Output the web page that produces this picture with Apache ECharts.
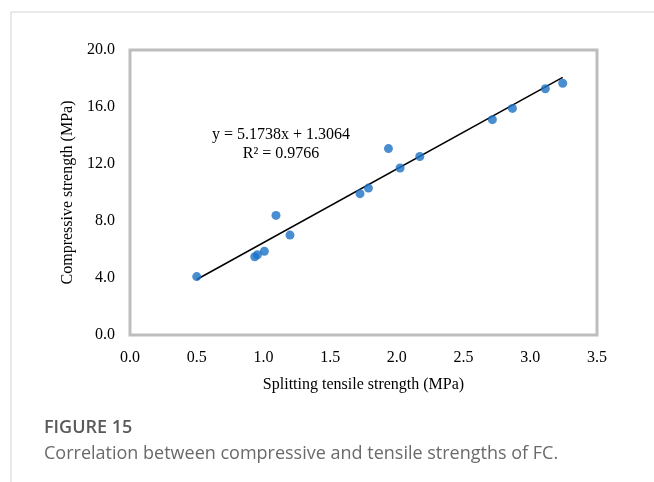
<!DOCTYPE html>
<html>
<head>
<meta charset="utf-8">
<script src="https://cdn.jsdelivr.net/npm/echarts@6/dist/echarts.min.js"></script>
<style>
html, body { margin: 0; padding: 0; background: #fff; }
#chart { width: 654px; height: 482px; }
</style>
</head>
<body>
<div id="chart"></div>
<script>
// tensile (x) vs compressive (y) strength, MPa
const tensile = [0.50, 0.935, 0.955, 1.007, 1.094, 1.199, 1.724, 1.787, 1.937, 2.024, 2.172, 2.716, 2.866, 3.113, 3.243];
const compressive = [4.10, 5.49, 5.63, 5.88, 8.39, 7.01, 9.92, 10.31, 13.08, 11.72, 12.53, 15.11, 15.90, 17.28, 17.67];
const slope = 5.1738;
const intercept = 1.3064;
const rSquared = 0.9766;

const points = tensile.map((x, i) => [x, compressive[i]]);
const xMin = Math.min(...tensile);
const xMax = Math.max(...tensile);
const trend = [[xMin, slope * xMin + intercept], [xMax, slope * xMax + intercept]];

const serif = '"Liberation Serif", "Times New Roman", serif';
const sans = '"Open Sans", sans-serif';
const chart = echarts.init(document.getElementById("chart"));

chart.setOption({
    animation: false,
    grid: {
        left: 130,
        right: 57,
        top: 50,
        bottom: 147,
        show: true,
        borderColor: "#bdbdbd",
        borderWidth: 3
    },
    xAxis: {
        type: "value",
        min: 0,
        max: 3.5,
        interval: 0.5,
        name: "Splitting tensile strength (MPa)",
        nameLocation: "middle",
        nameGap: 42,
        nameTextStyle: { fontFamily: serif, fontSize: 16, color: "#000" },
        axisLine: { show: false },
        axisTick: { show: false },
        splitLine: { show: false },
        axisLabel: {
            margin: 15,
            fontFamily: serif,
            fontSize: 16,
            color: "#000",
            formatter: v => v.toFixed(1)
        }
    },
    yAxis: {
        type: "value",
        min: 0,
        max: 20,
        interval: 4,
        name: "Compressive strength (MPa)",
        nameLocation: "middle",
        nameGap: 52,
        nameTextStyle: { fontFamily: serif, fontSize: 16, color: "#000" },
        axisLine: { show: false },
        axisTick: { show: false },
        splitLine: { show: false },
        axisLabel: {
            margin: 15,
            fontFamily: serif,
            fontSize: 16,
            color: "#000",
            formatter: v => v.toFixed(1)
        }
    },
    series: [
        {
            type: "line",
            data: trend,
            symbol: "none",
            lineStyle: { color: "#000", width: 1.5 },
            z: 2
        },
        {
            type: "scatter",
            data: points,
            symbolSize: 9,
            itemStyle: { color: "#1c72c6" },
            z: 3
        }
    ],
    graphic: [
        {
            type: "line",
            shape: { x1: 11, y1: 12, x2: 654, y2: 12 },
            style: { stroke: "#d4d4d4", lineWidth: 1 }
        },
        {
            type: "line",
            shape: { x1: 11, y1: 12, x2: 11, y2: 482 },
            style: { stroke: "#d4d4d4", lineWidth: 1 }
        },
        {
            type: "text",
            x: 281,
            y: 127,
            style: {
                text: "y = 5.1738x + 1.3064",
                align: "center",
                textAlign: "center",
                fontFamily: serif,
                fontSize: 16,
                fill: "#000"
            }
        },
        {
            type: "text",
            x: 281,
            y: 146,
            style: {
                text: "R² = " + rSquared,
                align: "center",
                textAlign: "center",
                fontFamily: serif,
                fontSize: 16,
                fill: "#000"
            }
        },
        {
            type: "text",
            left: 44,
            top: 419,
            style: {
                text: "FIGURE 15",
                fontFamily: sans,
                fontSize: 18,
                fontWeight: 600,
                fill: "#5a5a5a"
            }
        },
        {
            type: "text",
            left: 44,
            top: 445,
            style: {
                text: "Correlation between compressive and tensile strengths of FC.",
                fontFamily: sans,
                fontSize: 18,
                fill: "#6a6a6a"
            }
        }
    ]
});
</script>
</body>
</html>
